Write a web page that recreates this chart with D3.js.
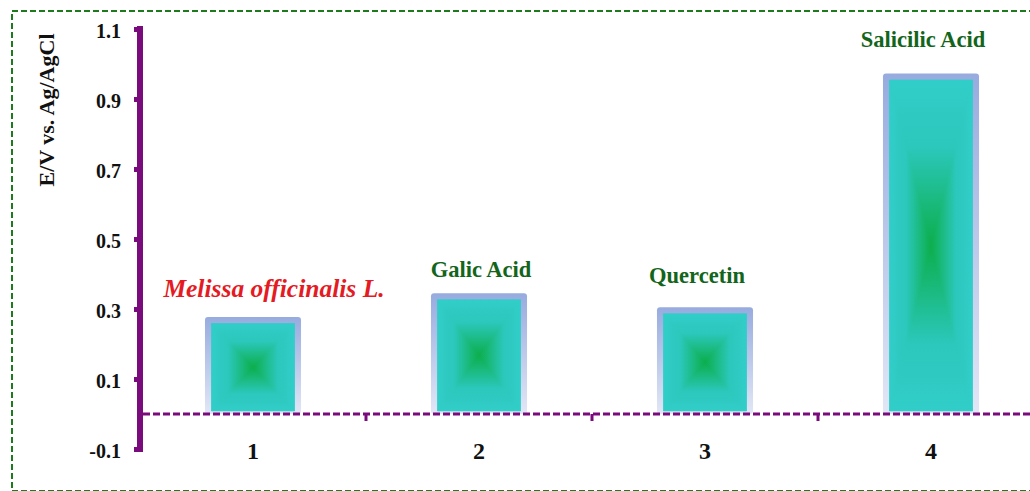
<!DOCTYPE html>
<html>
<head>
<meta charset="utf-8">
<script src="https://cdn.jsdelivr.net/npm/d3@7"></script>
<style>
  html, body { margin: 0; padding: 0; background: #fff; }
  svg { display: block; }
  text { font-family: "Liberation Serif", "Times New Roman", serif; font-weight: bold; }
</style>
</head>
<body>
<script>
// Open-circuit potentials (E / V vs. Ag/AgCl)
const categories = ["1", "2", "3", "4"];
const potentials = [0.277, 0.345, 0.305, 0.973];
const sampleNames = ["Melissa officinalis L.", "Galic Acid", "Quercetin", "Salicilic Acid"];
const yTicks = [-0.1, 0.1, 0.3, 0.5, 0.7, 0.9, 1.1];
const yTitle = "E/V vs. Ag/AgCl";

const W = 1030, H = 491;
const purple = "#790b7c";

const svg = d3.select("body").append("svg")
  .attr("width", W).attr("height", H);

const defs = svg.append("defs");
const cyan = "#31cdc8", cyanMid = "#2cc8bd", green = "#0cae4c";
function linGrad(id, x1, y1, x2, y2, reverse) {
  const g = defs.append("linearGradient").attr("id", id)
    .attr("x1", x1).attr("y1", y1).attr("x2", x2).attr("y2", y2);
  const stops = [[0, cyan], [0.4, cyanMid], [1, green]];
  (reverse ? stops.map(([o, c]) => [1 - o, c]).reverse() : stops)
    .forEach(([o, c]) => g.append("stop").attr("offset", o).attr("stop-color", c));
}
linGrad("gTop", 0, 0, 0, 1, false);
linGrad("gBottom", 0, 0, 0, 1, true);
linGrad("gLeft", 0, 0, 1, 0, false);
linGrad("gRight", 0, 0, 1, 0, true);
const rg = defs.append("radialGradient").attr("id", "gBase");
rg.append("stop").attr("offset", 0).attr("stop-color", green);
rg.append("stop").attr("offset", 0.6).attr("stop-color", cyanMid);
rg.append("stop").attr("offset", 1).attr("stop-color", cyan);
const fg = defs.append("linearGradient").attr("id", "gFrame")
  .attr("x1", 0).attr("y1", 0).attr("x2", 0).attr("y2", 1);
fg.append("stop").attr("offset", 0).attr("stop-color", "#97abdf");
fg.append("stop").attr("offset", 1).attr("stop-color", "#e2e7f6");

// Outer dashed frame
svg.append("rect")
  .attr("x", 12).attr("y", 11).attr("width", W + 20).attr("height", 480)
  .attr("fill", "none").attr("stroke", "#1d7a1d").attr("stroke-width", 2)
  .attr("stroke-dasharray", "6,3");

// Scales
const y = d3.scaleLinear().domain([-0.1, 1.1]).range([449, 29]);
const x = d3.scaleBand().domain(categories).range([140, 1044]).padding(0);
const barW = x.bandwidth() * 0.425;

// Bars: light frame with a rectangular (centre-out) gradient fill inside
const bars = svg.append("g").selectAll("g").data(categories).join("g");
bars.each(function (c, i) {
  const g = d3.select(this);
  const cx = x(c) + x.bandwidth() / 2;
  const top = y(potentials[i]), base = y(0);
  g.append("rect")
    .attr("x", cx - barW / 2).attr("y", top)
    .attr("width", barW).attr("height", base - top)
    .attr("rx", 3).attr("fill", "url(#gFrame)");
  const x0 = cx - barW / 2 + 6.5, x1 = cx + barW / 2 - 6.5;
  const y0 = top + 6.5, y1 = base - 3;
  const my = (y0 + y1) / 2;
  g.append("rect").attr("x", x0).attr("y", y0)
    .attr("width", x1 - x0).attr("height", y1 - y0).attr("fill", "url(#gBase)");
  const tri = [
    [[x0, y0], [x1, y0], [cx, my], "gTop"],
    [[x0, y1], [x1, y1], [cx, my], "gBottom"],
    [[x0, y0], [x0, y1], [cx, my], "gLeft"],
    [[x1, y0], [x1, y1], [cx, my], "gRight"]
  ];
  tri.forEach(t => {
    g.append("path")
      .attr("d", d3.line()(t.slice(0, 3)) + "Z")
      .attr("fill", `url(#${t[3]})`)
      .attr("stroke", `url(#${t[3]})`).attr("stroke-width", 0.6);
  });
});

// Sample names above bars
const labelNudge = [[21, -20], [2, -16], [-8, -24], [-8, -26]];
svg.append("g").selectAll("text").data(categories).join("text")
  .attr("x", (c, i) => x(c) + x.bandwidth() / 2 + labelNudge[i][0])
  .attr("y", (c, i) => y(potentials[i]) + labelNudge[i][1])
  .attr("text-anchor", "middle")
  .attr("font-size", (c, i) => i === 0 ? 25.5 : 22.5)
  .attr("font-style", (c, i) => i === 0 ? "italic" : "normal")
  .attr("fill", (c, i) => i === 0 ? "#e41b23" : "#12651a")
  .text((c, i) => sampleNames[i]);

// Zero line (dashed) with category separators
const zero = y(0);
svg.append("line")
  .attr("x1", 143).attr("x2", W).attr("y1", zero).attr("y2", zero)
  .attr("stroke", purple).attr("stroke-width", 3).attr("stroke-dasharray", "7,3");
svg.append("g").selectAll("line").data(categories.slice(1)).join("line")
  .attr("x1", c => x(c)).attr("x2", c => x(c))
  .attr("y1", zero).attr("y2", zero + 7)
  .attr("stroke", purple).attr("stroke-width", 3);

// Category labels
svg.append("g").selectAll("text").data(categories).join("text")
  .attr("x", c => x(c) + x.bandwidth() / 2)
  .attr("y", 459)
  .attr("text-anchor", "middle").attr("font-size", 24).attr("fill", "#111")
  .text(c => c);

// Y axis
const yAxis = d3.axisLeft(y).tickValues(yTicks).tickFormat(d => d.toFixed(1))
  .tickSize(4).tickPadding(15);
const ag = svg.append("g").attr("transform", "translate(140,0)").call(yAxis);
ag.select(".domain").attr("stroke", purple).attr("stroke-width", 6)
  .attr("d", `M0,${y(1.1) - 3}V${y(-0.1) + 3}`);
ag.selectAll(".tick line").attr("stroke", purple).attr("stroke-width", 5)
  .attr("x1", -3).attr("x2", -6);
ag.selectAll(".tick text").attr("font-size", 20).attr("fill", "#111")
  .attr("font-family", "Liberation Serif, serif").attr("font-weight", "bold")
  .attr("dy", "0.42em");

// Y axis title
svg.append("text")
  .attr("transform", "translate(54,110) rotate(-90)")
  .attr("text-anchor", "middle").attr("font-size", 22).attr("fill", "#111")
  .text(yTitle);
</script>
</body>
</html>
